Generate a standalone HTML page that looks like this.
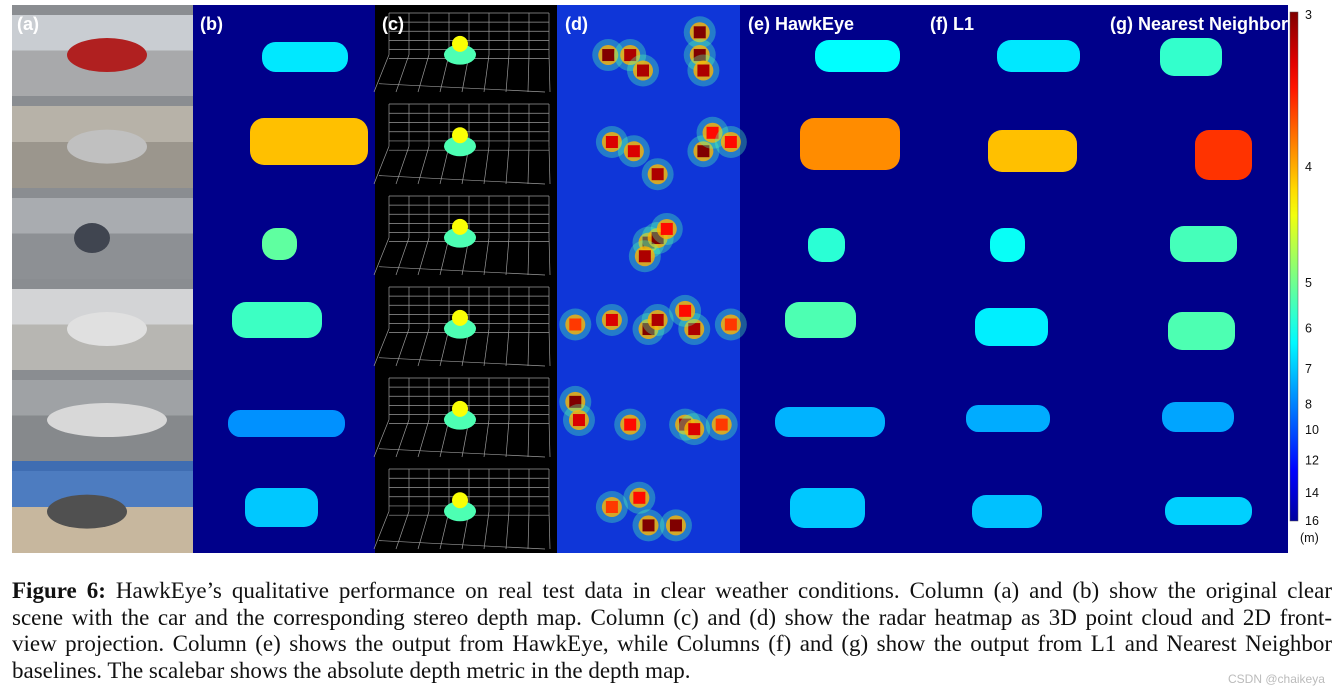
<!DOCTYPE html>
<html><head><meta charset="utf-8">
<style>
html,body{margin:0;padding:0;background:#fff;width:1341px;height:697px;overflow:hidden}
svg{position:absolute;left:0;top:0}
#cap{position:absolute;left:12px;top:578px;width:1320px;font-family:"Liberation Serif",serif;font-size:23px;line-height:26.5px;color:#111}
#cap div{text-align:justify;text-align-last:justify;white-space:nowrap}
#cap div.last{text-align-last:left}
#cap b{font-weight:bold}
</style></head><body>
<svg id="fig" width="1341" height="560" xmlns="http://www.w3.org/2000/svg"></svg>
<div id="cap">
<div><b>Figure 6:</b> HawkEye’s qualitative performance on real test data in clear weather conditions. Column (a) and (b) show the original clear</div>
<div>scene with the car and the corresponding stereo depth map. Column (c) and (d) show the radar heatmap as 3D point cloud and 2D front-</div>
<div>view projection. Column (e) shows the output from HawkEye, while Columns (f) and (g) show the output from L1 and Nearest Neighbor</div>
<div class="last">baselines. The scalebar shows the absolute depth metric in the depth map.</div>
</div>
<script>
// colorbar ticks (depth in m)
const tickLabels=[3,4,5,6,7,8,10,12,14,16];
const tickFrac=[0,0.30,0.53,0.62,0.70,0.77,0.82,0.88,0.945,1.0];
// car depth per row for columns b, e, f, g
const depthB=[6.6,4.1,5.2,5.6,7.8,7.0];
const depthE=[6.3,3.9,5.8,5.4,7.3,7.0];
const depthF=[6.6,4.1,6.2,6.5,7.4,7.1];
const depthG=[5.7,3.6,5.5,5.4,7.5,6.9];
// radar heatmap hot spots for column d: [row, relX, relY, intensity]
const spots=[[0,0.28,0.55,1],[0,0.4,0.55,0.9],[0,0.47,0.72,0.9],[0,0.78,0.3,1],[0,0.78,0.55,1],[0,0.8,0.72,0.9],
[1,0.3,0.5,0.8],[1,0.42,0.6,0.8],[1,0.55,0.85,0.9],[1,0.8,0.6,1],[1,0.85,0.4,0.7],[1,0.95,0.5,0.7],
[2,0.5,0.6,1],[2,0.55,0.55,1],[2,0.48,0.75,0.9],[2,0.6,0.45,0.7],
[3,0.1,0.5,0.6],[3,0.3,0.45,0.8],[3,0.5,0.55,1],[3,0.55,0.45,0.9],[3,0.75,0.55,0.9],[3,0.7,0.35,0.7],[3,0.95,0.5,0.6],
[4,0.1,0.35,1],[4,0.12,0.55,0.8],[4,0.4,0.6,0.7],[4,0.7,0.6,0.9],[4,0.75,0.65,0.8],[4,0.9,0.6,0.6],
[5,0.5,0.7,1],[5,0.45,0.4,0.7],[5,0.65,0.7,1],[5,0.3,0.5,0.6]];
const NS="http://www.w3.org/2000/svg";
const svg=document.getElementById('fig');
function mk(t,a,p){const e=document.createElementNS(NS,t);for(const k in a)e.setAttribute(k,a[k]);(p||svg).appendChild(e);return e;}
function jet(v){v=Math.max(0,Math.min(1,v));const r=Math.min(4*v-1.5,-4*v+4.5),g=Math.min(4*v-0.5,-4*v+3.5),b=Math.min(4*v+0.5,-4*v+2.5);
const c=x=>Math.round(255*Math.max(0,Math.min(1,x)));return `rgb(${c(r)},${c(g)},${c(b)})`;}
function depthFrac(d){for(let i=0;i<tickLabels.length-1;i++){if(d<=tickLabels[i+1]){const t=(d-tickLabels[i])/(tickLabels[i+1]-tickLabels[i]);return tickFrac[i]+t*(tickFrac[i+1]-tickFrac[i]);}}return 1;}
function depthColor(d){return jet(1-depthFrac(d)*0.97);}
const rowsY=[5,96,188,279,370,461,553];
const cols={a:[12,193],b:[193,375],c:[375,557],d:[557,740],e:[740,922],f:[922,1105],g:[1105,1288]};
const navy='#00008a';
const photoTop=['#c9cdd2','#b7b2a8','#a9acb0','#d3d4d6','#9fa2a5','#4d7cc0'];
const photoBot=['#a8a9ab','#9b968d','#8d9094','#b7b6b2','#86898c','#c7b79e'];
for(let r=0;r<6;r++){const[x0,x1]=cols.a,y0=rowsY[r],h=rowsY[r+1]-y0;
const g=mk('g',{});
mk('rect',{x:x0,y:y0,width:x1-x0,height:h/2,fill:photoTop[r]},g);
mk('rect',{x:x0,y:y0+h/2,width:x1-x0,height:h/2,fill:photoBot[r]},g);
mk('rect',{x:x0,y:y0,width:x1-x0,height:10,fill:r==5?'#3f6db2':'#8a8d91'},g);
const cc=['#b02020','#c0c0c0','#404550','#e0e0e0','#d8d8d8','#505050'][r];
mk('ellipse',{cx:x0+(r==2?80:r==5?75:95),cy:y0+h*0.55,rx:r==2?18:r==4?60:40,ry:r==2?15:17,fill:cc},g);}
function drawDepthCol(key,depth,boxes){const[x0,x1]=cols[key];
const bg=mk('rect',{x:x0,y:5,width:x1-x0,height:548,fill:navy});

for(let r=0;r<6;r++){const b=boxes[r];const c=mk('rect',{x:b[0],y:b[1],width:b[2]-b[0],height:b[3]-b[1],rx:Math.min(14,(b[3]-b[1])/2.2),fill:depthColor(depth[r])});
}}
drawDepthCol('b',depthB,[[262,42,348,72],[250,118,368,165],[262,228,297,260],[232,302,322,338],[228,410,345,437],[245,488,318,527]]);
drawDepthCol('e',depthE,[[815,40,900,72],[800,118,900,170],[808,228,845,262],[785,302,856,338],[775,407,885,437],[790,488,865,528]]);
drawDepthCol('f',depthF,[[997,40,1080,72],[988,130,1077,172],[990,228,1025,262],[975,308,1048,346],[966,405,1050,432],[972,495,1042,528]]);
drawDepthCol('g',depthG,[[1160,38,1222,76],[1195,130,1252,180],[1170,226,1237,262],[1168,312,1235,350],[1162,402,1234,432],[1165,497,1252,525]]);
{const[x0,x1]=cols.c;const bg=mk('rect',{x:x0,y:5,width:x1-x0,height:548,fill:'#000'});

for(let r=0;r<6;r++){const y0=rowsY[r]+4,h=rowsY[r+1]-rowsY[r]-8;const g=mk('g',{stroke:'#999','stroke-width':0.7,fill:'none'});
for(let i=0;i<=8;i++){const x=x0+14+i*20;mk('line',{x1:x,y1:y0+4,x2:x,y2:y0+h*0.55},g);mk('line',{x1:x,y1:y0+h*0.55,x2:x-15+i*2,y2:y0+h},g);}
for(let j=0;j<=5;j++){const y=y0+4+j*h*0.55/5;mk('line',{x1:x0+14,y1:y,x2:x0+174,y2:y},g);}
mk('line',{x1:x0+4,y1:y0+h*0.9,x2:x0+170,y2:y0+h},g);
const pc=mk('ellipse',{cx:x0+85,cy:y0+h*0.55,rx:16,ry:10,fill:jet(0.45),stroke:'none'});

mk('ellipse',{cx:x0+85,cy:y0+h*0.42,rx:8,ry:8,fill:jet(0.62)});}}
{const[x0,x1]=cols.d;const w=x1-x0;const bg=mk('rect',{x:x0,y:5,width:w,height:548,fill:'#0f36d8'});

for(const s of spots){const y0=rowsY[s[0]],h=rowsY[s[0]+1]-y0;const cx=x0+s[1]*w,cy=y0+s[2]*h;
mk('circle',{cx,cy,r:16,fill:jet(0.45),opacity:0.35});mk('circle',{cx,cy,r:10,fill:jet(0.7),opacity:0.8});
const c=mk('rect',{x:cx-6,y:cy-6,width:12,height:12,fill:jet(0.55+0.45*s[3])});
}}
const labels=[['(a)',17],['(b)',200],['(c)',382],['(d)',565],['(e) HawkEye',748],['(f) L1',930],['(g) Nearest Neighbor',1110]];
for(const[t,x]of labels){const e=mk('text',{x,y:30,fill:'#fff','font-family':'Liberation Sans, sans-serif','font-size':18,'font-weight':'bold'});e.textContent=t;
}
{const top=12,bot=521,x=1290;const defs=mk('defs',{});const lg=mk('linearGradient',{id:'jg',x1:0,y1:0,x2:0,y2:1},defs);
for(let i=0;i<=20;i++)mk('stop',{offset:i/20,'stop-color':jet(1-i/20*0.97)},lg);
const cb=mk('rect',{x,y:top,width:8,height:bot-top,fill:'url(#jg)',stroke:'#555','stroke-width':0.5});

tickLabels.forEach((v,i)=>{const y=top+3+tickFrac[i]*(bot-top-3);const t=mk('text',{x:1305,y:y+4,'font-family':'Liberation Sans, sans-serif','font-size':12.5,fill:'#111'});t.textContent=v;
});
const u=mk('text',{x:1300,y:542,'font-family':'Liberation Sans, sans-serif','font-size':12.5,fill:'#111'});u.textContent='(m)';
}
</script>
<div style="position:absolute;left:1228px;top:672px;font:12px 'Liberation Sans',sans-serif;color:#bbb">CSDN @chaikeya</div>
</body></html>
